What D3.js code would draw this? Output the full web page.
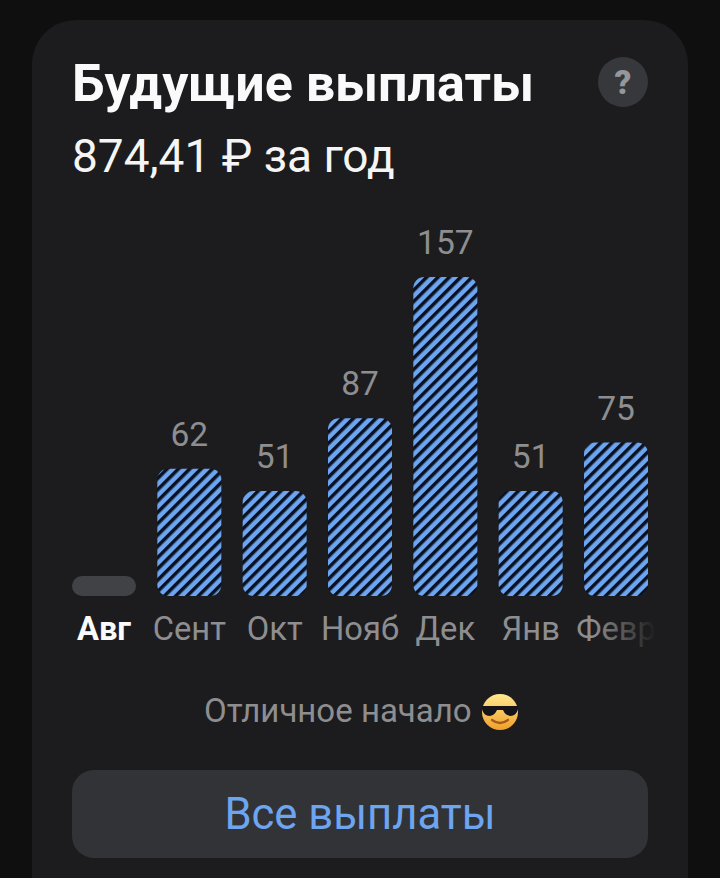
<!DOCTYPE html>
<html><head><meta charset="utf-8">
<script src="https://cdn.jsdelivr.net/npm/d3@7/dist/d3.min.js"></script>
<style>html,body{margin:0;padding:0;background:#0f0f0f;overflow:hidden}svg{display:block}text{font-family:Roboto,sans-serif}</style>
</head><body><svg id="c" width="720" height="878"></svg>
<script>
const months=["Авг","Сент","Окт","Нояб","Дек","Янв","Февр"];
const values=[0,62,51,87,157,51,75];
const valueLabels=["","62","51","87","157","51","75"];
const title="Будущие выплаты", subtitle="874,41 ₽ за год", note="Отличное начало", button="Все выплаты";
const svg=d3.select("#c"), defs=svg.append("defs");
const baseline=596;
const x=d3.scaleBand().domain(months).range([72,648]).paddingInner(0.25);
const y=d3.scaleLinear().domain([0,157]).range([594,277]);

const pat=defs.append("pattern").attr("id","hatch").attr("patternUnits","userSpaceOnUse")
 .attr("width",8).attr("height",8).attr("patternTransform","rotate(45)");
pat.append("rect").attr("width",8).attr("height",8).attr("fill","#6ea5f0");
pat.append("rect").attr("width",3.5).attr("height",8).attr("fill","#081120");
const fade=defs.append("linearGradient").attr("id","fade").attr("gradientUnits","objectBoundingBox")
 .attr("x1",0.22).attr("x2",0.98).attr("y1",0).attr("y2",0);
fade.append("stop").attr("offset",0).attr("stop-color","#8e8e90");
fade.append("stop").attr("offset",1).attr("stop-color","#8e8e90").attr("stop-opacity",0.03);
const face=defs.append("linearGradient").attr("id","face").attr("x1",0).attr("x2",0).attr("y1",0).attr("y2",1);
face.append("stop").attr("offset",0).attr("stop-color","#ffe98f");
face.append("stop").attr("offset",1).attr("stop-color","#f0a02a");

// card
svg.append("rect").attr("x",32).attr("y",20).attr("width",656).attr("height",920).attr("rx",44).attr("fill","#1c1c1e");

// header
svg.append("text").attr("x",72).attr("y",100.5).attr("font-size",52).attr("font-weight",700).attr("fill","#fafafa").text(title);
svg.append("text").attr("x",72).attr("y",172).attr("font-size",46).attr("font-weight",400).attr("fill","#f5f5f5").text(subtitle);
svg.append("circle").attr("cx",623).attr("cy",82).attr("r",25).attr("fill","#37383b");
svg.append("text").attr("x",623).attr("y",94).attr("text-anchor","middle").attr("font-size",33).attr("font-weight",900).attr("fill","#96979b").text("?");

// bars
const row=months.map((m,i)=>({m,v:values[i],l:valueLabels[i]}));
svg.append("g").selectAll("rect").data(row).join("rect")
 .attr("x",d=>x(d.m)).attr("width",x.bandwidth())
 .attr("y",d=>d.v?y(d.v):baseline-20)
 .attr("height",d=>d.v?baseline-y(d.v):20)
 .attr("rx",d=>d.v?11:10)
 .attr("fill",d=>d.v?"url(#hatch)":"#414245");
svg.append("g").selectAll("text").data(row.filter(d=>d.v)).join("text")
 .attr("x",d=>x(d.m)+x.bandwidth()/2).attr("y",d=>y(d.v)-23)
 .attr("text-anchor","middle").attr("font-size",33.5).attr("fill","#8e8e90").text(d=>d.l);

// month axis
const ax=svg.append("g").attr("transform",`translate(0,${baseline})`)
 .call(d3.axisBottom(x).tickSize(0).tickPadding(21));
ax.select(".domain").remove();
ax.selectAll("text").attr("font-size",32.7).attr("font-family","Roboto,sans-serif")
 .attr("fill",(d,i)=>i===0?"#fafafa":i===6?"url(#fade)":"#8e8e90")
 .attr("font-weight",(d,i)=>i===0?700:400);

// note + emoji
svg.append("text").attr("x",204).attr("y",722).attr("font-size",33).attr("fill","#8e8e90").text(note);
const e=svg.append("g").attr("transform","translate(500,712)");
e.append("circle").attr("r",18).attr("fill","url(#face)");
e.append("path").attr("d","M-18,-6 H18 V-3 C16,6 6,6 3,-2 H-3 C-6,6 -16,6 -18,-3 Z").attr("fill","#14141a");
e.append("path").attr("d","M-8,8 Q0,14 8,8").attr("fill","none").attr("stroke","#a5591a").attr("stroke-width",2.2).attr("stroke-linecap","round");

// button
svg.append("rect").attr("x",72).attr("y",770).attr("width",576).attr("height",88).attr("rx",22).attr("fill","#323336");
svg.append("text").attr("x",360).attr("y",829).attr("text-anchor","middle").attr("font-size",43.6).attr("fill","#6ea5f0").text(button);
</script></body></html>
